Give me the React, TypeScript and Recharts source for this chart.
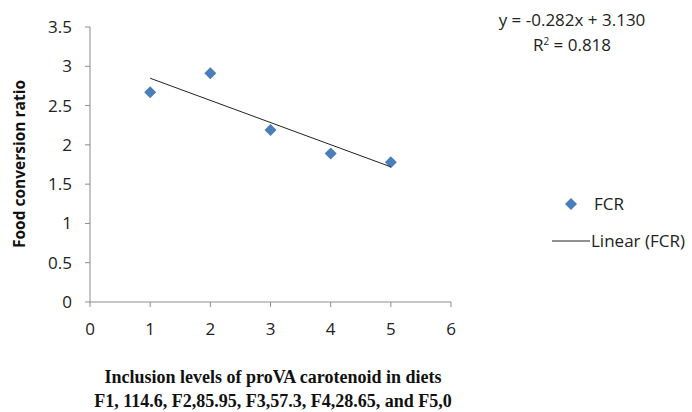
import React from 'react';
import { ComposedChart, Scatter, XAxis, YAxis } from 'recharts';

const levels = [1, 2, 3, 4, 5];
const fcrValues = [2.67, 2.91, 2.19, 1.89, 1.78];
const trendX = [1, 5];
const trendY = [2.848, 1.72];
const xTicks = [0, 1, 2, 3, 4, 5, 6];
const yTicks = [0, 0.5, 1, 1.5, 2, 2.5, 3, 3.5];

const fcrData = levels.map((x, i) => ({ x, y: fcrValues[i] }));
const trendData = trendX.map((x, i) => ({ x, y: trendY[i] }));

const BLUE = '#4a7ebb';
const AXIS = '#8c8c8c';
const SANS = '"Open Sans", "Noto Sans", sans-serif';

const Diamond = (props: any) => {
  const { cx, cy } = props;
  const r = 6;
  return <polygon points={`${cx},${cy - r} ${cx + r},${cy} ${cx},${cy + r} ${cx - r},${cy}`} fill={BLUE} />;
};

export default function App() {
  return (
    <div style={{ position: 'absolute', left: 0, top: 0, width: 692, height: 412, background: '#fff' }}>
      <ComposedChart width={692} height={412} margin={{ top: 27, right: 241, left: 0, bottom: 80 }}>
        <XAxis
          type="number"
          dataKey="x"
          domain={[0, 6]}
          ticks={xTicks}
          tickSize={5}
          tickMargin={16}
          height={30}
          stroke={AXIS}
          tick={{ fill: '#222', fontSize: 17, fontFamily: SANS }}
          allowDataOverflow
        />
        <YAxis
          type="number"
          dataKey="y"
          domain={[0, 3.5]}
          ticks={yTicks}
          tickSize={5}
          tickMargin={13}
          width={90}
          stroke={AXIS}
          tick={{ fill: '#222', fontSize: 17, fontFamily: SANS }}
        />
        <Scatter data={fcrData} shape={<Diamond />} isAnimationActive={false} />
        <Scatter
          data={trendData}
          line={{ stroke: '#222', strokeWidth: 1 }}
          shape={() => null}
          isAnimationActive={false}
        />
      </ComposedChart>
      <div style={{ position: 'absolute', left: 0, top: 164, width: 0, height: 0 }}>
        <div
          style={{
            position: 'absolute', left: 19, top: 0, transform: 'translate(-50%, -50%) rotate(-90deg)',
            whiteSpace: 'nowrap', fontFamily: SANS, fontWeight: 700, fontSize: 15.5, lineHeight: '20px', color: '#111',
          }}
        >
          Food conversion ratio
        </div>
      </div>
      <div
        style={{
          position: 'absolute', left: 0, top: 365, width: 546, textAlign: 'center',
          fontFamily: '"Liberation Serif", "DejaVu Serif", serif', fontWeight: 700, fontSize: 18,
          lineHeight: '24px', color: '#111', letterSpacing: '0px',
        }}
      >
        <div>Inclusion levels of proVA carotenoid in diets</div>
        <div>F1, 114.6, F2,85.95, F3,57.3, F4,28.65, and F5,0</div>
      </div>
      <div
        style={{
          position: 'absolute', left: 479, top: 7, width: 186, textAlign: 'center',
          fontFamily: SANS, fontSize: 17, lineHeight: '25px', color: '#222',
        }}
      >
        <div>y = -0.282x + 3.130</div>
        <div>R<sup style={{ fontSize: 10, verticalAlign: 'top', lineHeight: '18px' }}>2</sup> = 0.818</div>
      </div>
      <svg style={{ position: 'absolute', left: 540, top: 190 }} width={60} height={60}>
        <polygon points="31,8 37,14 31,20 25,14" fill={BLUE} />
        <line x1={12} y1={51} x2={50} y2={51} stroke="#222" strokeWidth={1} />
      </svg>
      <div style={{ position: 'absolute', left: 594, top: 192, fontFamily: SANS, fontSize: 17, color: '#222' }}>FCR</div>
      <div style={{ position: 'absolute', left: 591, top: 229, fontFamily: SANS, fontSize: 17, color: '#222' }}>Linear (FCR)</div>
    </div>
  );
}
